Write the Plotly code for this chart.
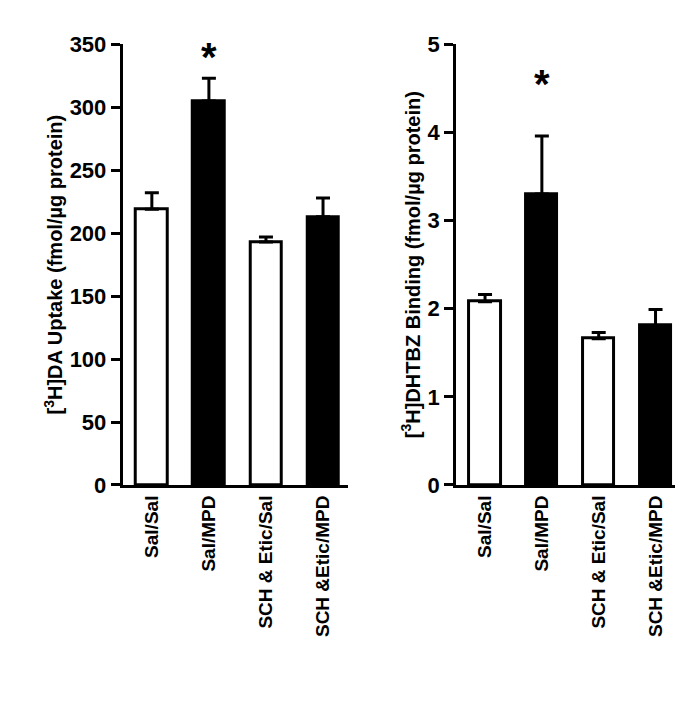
import plotly.graph_objects as go

cats = ["Sal/Sal", "Sal/MPD", "SCH & Etic/Sal", "SCH &Etic/MPD"]
uptake = [219, 305, 193, 213]
uptake_err = [13, 18, 4, 15]
binding = [2.08, 3.3, 1.66, 1.81]
binding_err = [0.08, 0.66, 0.07, 0.18]
colors = ["white", "black", "white", "black"]
star_y = [340, 4.55]
FONT = "Liberation Sans"

fig = go.Figure()
for y, e, xa, ya in [(uptake, uptake_err, "x", "y"), (binding, binding_err, "x2", "y2")]:
    fig.add_trace(go.Bar(x=list(range(4)), y=y, width=0.55, xaxis=xa, yaxis=ya,
        marker=dict(color=colors, line=dict(color="black", width=3)),
        error_y=dict(type="data", array=e, arrayminus=[0]*4, symmetric=False,
                     color="black", thickness=3, width=7),
        showlegend=False))

def f(size):
    return dict(family=FONT, size=size, color="black", weight="bold")

common_x = dict(tickvals=list(range(4)), ticktext=cats, tickangle=-90, showline=True,
                linecolor="black", linewidth=3, ticks="", tickfont=f(19), showgrid=False, zeroline=False)
common_y = dict(showline=True, linecolor="black", linewidth=3, ticks="outside", ticklen=9,
                tickwidth=3, tickcolor="black", tickfont=f(22), showgrid=False, zeroline=False)
fig.update_layout(
    width=683, height=719, margin=dict(l=0, r=0, t=0, b=0),
    font=f(20),
    plot_bgcolor="white", paper_bgcolor="white", bargap=0,
    xaxis=dict(domain=[0.168, 0.498], range=[-0.51, 3.44], anchor="y", **common_x),
    xaxis2=dict(domain=[0.656, 0.998], range=[-0.51, 3.6], anchor="y2", **common_x),
    yaxis=dict(domain=[0.330, 0.965], range=[0, 350], dtick=50, anchor="x",
               title=dict(text="[<sup>3</sup>H]DA Uptake (fmol/µg protein)", font=f(20), standoff=2),
               **common_y),
    yaxis2=dict(domain=[0.330, 0.965], range=[0, 5], dtick=1, anchor="x2",
                title=dict(text="[<sup>3</sup>H]DHTBZ Binding (fmol/µg protein)", font=f(20), standoff=2),
                **common_y),
    annotations=[
        dict(x=1, y=star_y[0], xref="x", yref="y", text="*", showarrow=False,
             font=f(40)),
        dict(x=1, y=star_y[1], xref="x2", yref="y2", text="*", showarrow=False,
             font=f(40)),
    ],
)
fig.write_html("out.html")
